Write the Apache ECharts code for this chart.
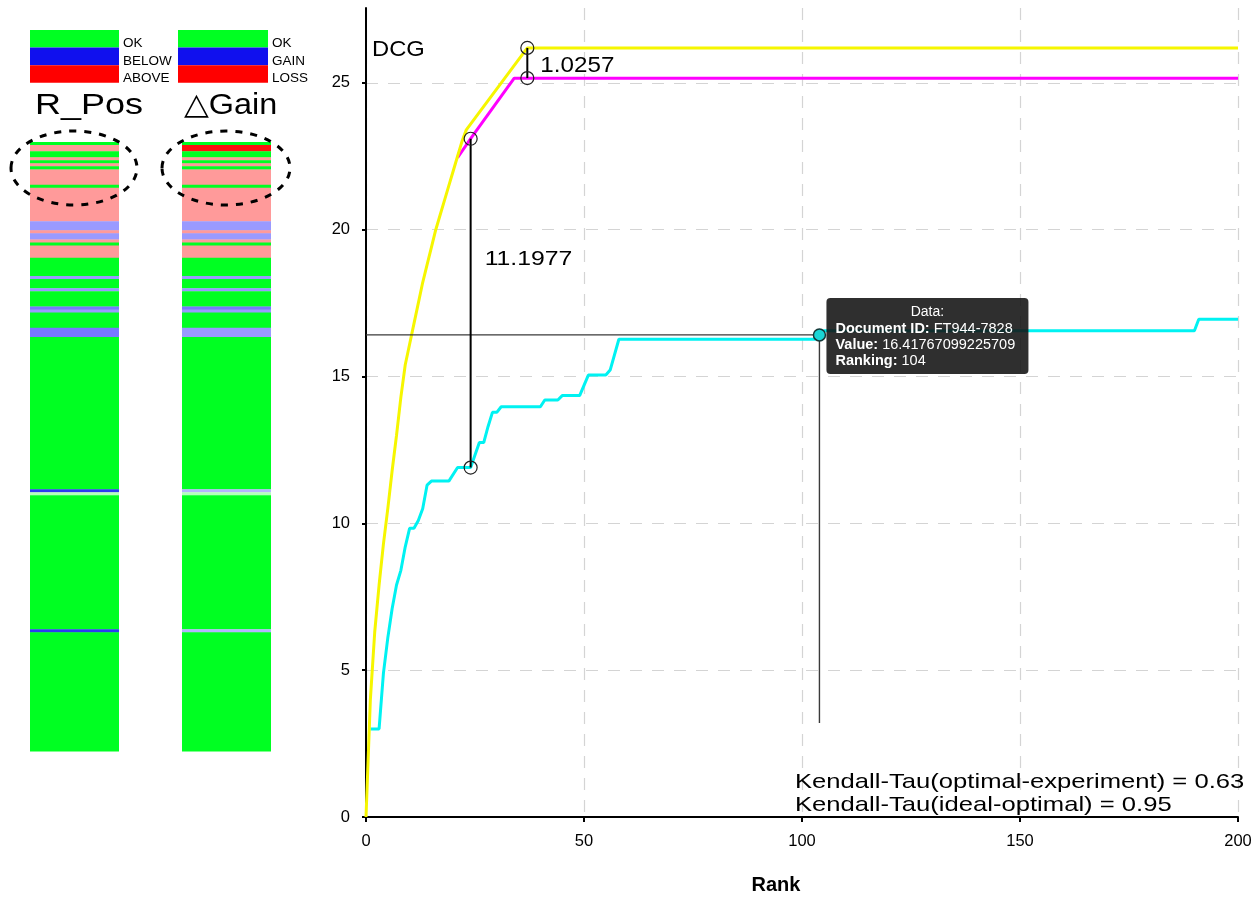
<!DOCTYPE html>
<html lang="en">
<head>
  <meta charset="UTF-8">
  <title>DCG by rank</title>
  <script src="https://cdn.jsdelivr.net/npm/echarts@6/dist/echarts.min.js"></script>
  <style>
    html, body {
      margin: 0;
      padding: 0;
      background: #fff;
    }

    #main {
      width: 1255px;
      height: 897px;
    }
  </style>
</head>
<body>
  <div id="main"></div>

  <script type="text/javascript">
    // ideal ranking (yellow)
    var idealRanks = [0, 1, 2, 3, 4, 5, 6, 7, 8, 9, 10, 11, 12, 13, 14, 15, 16, 17, 18, 19, 20, 21, 22, 23, 37, 200]
    var idealValues = [0, 4.0, 6.3, 7.9, 9.3, 10.5, 11.8, 13.0, 14.3, 15.4, 16.1, 16.8, 17.5, 18.2, 18.8, 19.4, 20.0, 20.5, 21.0, 21.5, 22.0, 22.5, 23.0, 23.4, 26.19, 26.19]

    // optimal ranking (magenta), hidden under the yellow before rank 21
    var optRanks = [21, 24, 34, 200]
    var optValues = [22.45, 23.1, 25.16, 25.16]

    // experiment ranking (cyan)
    var expRanks = [1, 3, 4, 5, 6, 7, 8, 9, 10, 11, 12, 13, 14, 15, 19, 21, 24, 26, 27, 28, 29, 30, 31, 40, 41, 44, 45, 49, 51, 55, 56, 58, 103, 104, 105, 190, 191, 200]
    var expValues = [3.0, 3.0, 4.9, 6.1, 7.1, 7.9, 8.4, 9.2, 9.83, 9.83, 10.1, 10.5, 11.3, 11.44, 11.44, 11.9, 11.9, 12.75, 12.75, 13.3, 13.78, 13.78, 13.97, 13.97, 14.2, 14.2, 14.35, 14.35, 15.05, 15.05, 15.22, 16.27, 16.27, 16.4177, 16.56, 16.56, 16.95, 16.95]

    // measured gaps
    var diffRanks = [24, 37]
    var diffUpper = [23.0977, 26.19]
    var diffLower = [11.9, 25.1643]
    var diffLabels = ['11.1977', '1.0257']

    // hovered point
    var hoverRank = 104
    var hoverValue = 16.41767099225709
    var hoverDocId = 'FT944-7828'
    var hoverLineEnd = 3.2

    var xTicks = [0, 50, 100, 150, 200]
    var yTicks = [0, 5, 10, 15, 20, 25]

    // per-document stripes, top = rank 1, run lengths
    var posKinds = ['G', 'r', 'G', 'r', 'G', 'r', 'G', 'r', 'G', 'r', 'b', 'r', 'b', 'r', 'G', 'r', 'G', 'b', 'G', 'b', 'G', 'B', 'b', 'G', 'B', 'G', 'D', 'P', 'G', 'D', 'G']
    var posCounts = [1, 2, 2, 1, 1, 1, 1, 5, 1, 11, 3, 1, 2, 1, 1, 4, 6, 1, 3, 1, 5, 1, 1, 5, 3, 50, 1, 1, 44, 1, 39]
    var gainKinds = ['G', 'R', 'G', 'r', 'G', 'r', 'G', 'r', 'G', 'r', 'b', 'r', 'b', 'r', 'G', 'r', 'G', 'b', 'G', 'b', 'G', 'B', 'b', 'G', 'b', 'G', 'L', 'P', 'G', 'L', 'G']
    var gainCounts = [1, 2, 2, 1, 1, 1, 1, 5, 1, 11, 3, 1, 2, 1, 1, 4, 6, 1, 3, 1, 5, 1, 1, 5, 3, 50, 1, 1, 44, 1, 39]

    var kindColors = {
      G: '#00ff22',
      r: '#ff9a9a',
      R: '#ff1010',
      b: '#9a9aff',
      B: '#7878ff',
      D: '#2a3cf0',
      P: '#b4ffbc',
      L: '#b4b4ff'
    }

    function pairs(xs, ys) {
      return xs.map(function(x, i) { return [x, ys[i]] })
    }

    function runs(kinds, counts) {
      var out = []
      var start = 0
      kinds.forEach(function(k, i) {
        out.push({ value: [0, start, start + counts[i]], kind: k })
        start += counts[i]
      })
      return out
    }

    var posSegs = runs(posKinds, posCounts)
    var gainSegs = runs(gainKinds, gainCounts)

    function stripeRender(segs) {
      return function(params, api) {
        var a = api.coord([0, api.value(1)])
        var b = api.coord([0, api.value(2)])
        var w = api.size([1, 0])[0]
        return {
          type: 'rect',
          shape: { x: a[0] - w / 2, y: a[1], width: w, height: b[1] - a[1] + 0.4 },
          style: { fill: kindColors[segs[params.dataIndex].kind] }
        }
      }
    }

    var font = '"Liberation Sans", Arial, Helvetica, sans-serif'
    var gridDash = [12, 10]

    var myChart = echarts.init(document.getElementById('main'))

    var diffSeries = diffRanks.map(function(r, i) {
      return {
        type: 'line',
        xAxisIndex: 0,
        yAxisIndex: 0,
        data: [[r, diffLower[i]], [r, diffUpper[i]]],
        symbol: 'circle',
        symbolSize: 13,
        itemStyle: { color: 'rgba(0,0,0,0)', borderColor: '#222', borderWidth: 1.2 },
        lineStyle: { color: '#000', width: 2 },
        z: 6
      }
    })

    var option = {
      animation: false,
      backgroundColor: '#fff',
      textStyle: { fontFamily: font },
      grid: [
        { left: 366, right: 17, top: 8, bottom: 80 },
        { left: 30, top: 142, width: 89, height: 609 },
        { left: 182, top: 142, width: 89, height: 609 }
      ],
      xAxis: [
        {
          gridIndex: 0,
          type: 'value',
          min: xTicks[0],
          max: xTicks[xTicks.length - 1],
          interval: 50,
          axisLine: { lineStyle: { color: '#000', width: 2 } },
          axisTick: { length: 5, lineStyle: { color: '#000', width: 2 } },
          axisLabel: { color: '#000', fontSize: 16.5, margin: 16, fontFamily: font },
          splitLine: { show: true, lineStyle: { color: '#d4d4d4', type: gridDash, width: 1.2 } }
        },
        { gridIndex: 1, type: 'category', data: ['R_Pos'], show: false },
        { gridIndex: 2, type: 'category', data: ['ΔGain'], show: false }
      ],
      yAxis: [
        {
          gridIndex: 0,
          type: 'value',
          min: yTicks[0],
          max: 27.55,
          interval: 5,
          axisLine: { show: true, lineStyle: { color: '#000', width: 2 } },
          axisTick: { show: true, length: 4, lineStyle: { color: '#000', width: 2 } },
          axisLabel: { color: '#000', fontSize: 16.5, margin: 16, fontFamily: font, showMaxLabel: false },
          splitLine: { show: true, showMaxLine: false, lineStyle: { color: '#d4d4d4', type: gridDash, width: 1.2 } }
        },
        { gridIndex: 1, type: 'value', min: 0, max: 200, inverse: true, show: false },
        { gridIndex: 2, type: 'value', min: 0, max: 200, inverse: true, show: false }
      ],
      series: [
        {
          name: 'R_Pos',
          type: 'custom',
          xAxisIndex: 1,
          yAxisIndex: 1,
          renderItem: stripeRender(posSegs),
          data: posSegs
        },
        {
          name: 'Gain',
          type: 'custom',
          xAxisIndex: 2,
          yAxisIndex: 2,
          renderItem: stripeRender(gainSegs),
          data: gainSegs
        },
        {
          name: 'experiment',
          type: 'line',
          data: pairs(expRanks, expValues),
          symbol: 'none',
          lineStyle: { color: '#00f2f2', width: 3 },
          z: 2
        },
        {
          name: 'optimal',
          type: 'line',
          data: pairs(optRanks, optValues),
          symbol: 'none',
          lineStyle: { color: '#ff00ff', width: 3 },
          z: 3
        },
        {
          name: 'ideal',
          type: 'line',
          data: pairs(idealRanks, idealValues),
          symbol: 'none',
          lineStyle: { color: '#f6f600', width: 3 },
          z: 4
        },
        {
          name: 'crossH',
          type: 'line',
          data: [[0, hoverValue], [hoverRank, hoverValue]],
          symbol: 'none',
          lineStyle: { color: '#3a3a3a', width: 1.4 },
          z: 5
        },
        {
          name: 'crossV',
          type: 'line',
          data: [[hoverRank, hoverValue], [hoverRank, hoverLineEnd]],
          symbol: 'none',
          lineStyle: { color: '#3a3a3a', width: 1.4 },
          z: 5
        },
        {
          name: 'hover',
          type: 'scatter',
          data: [[hoverRank, hoverValue]],
          symbolSize: 12,
          itemStyle: { color: '#1ad6d6', borderColor: '#143838', borderWidth: 1.5, opacity: 1 },
          z: 7
        }
      ].concat(diffSeries)
    }

    myChart.setOption(option)

    // annotations, placed from data through the grid
    var p = function(x, y) { return myChart.convertToPixel({ gridIndex: 0 }, [x, y]) }
    var hp = p(hoverRank, hoverValue)
    var d0 = p(diffRanks[0], diffUpper[0])
    var d1 = p(diffRanks[1], diffUpper[1])
    var tipX = hp[0] + 7
    var tipY = hp[1] - 37

    var legendTexts = function(x, names) {
      return names.map(function(n, i) {
        return {
          type: 'text', x: x, y: [43.3, 60.8, 78.3][i], z: 100,
          style: { text: n, fill: '#000', fontSize: 13.5, fontFamily: font, align: 'left', verticalAlign: 'middle' }
        }
      })
    }

    var legendBoxes = function(x, w) {
      return ['#00ff22', '#1010ee', '#ff0000'].map(function(c, i) {
        return { type: 'rect', z: 100, shape: { x: x, y: 30 + i * 17.6, width: w, height: 17.6 }, style: { fill: c } }
      })
    }

    var graphics = []
      .concat(legendBoxes(30, 89), legendBoxes(178, 90))
      .concat(legendTexts(123, ['OK', 'BELOW', 'ABOVE']), legendTexts(272, ['OK', 'GAIN', 'LOSS']))
      .concat([
        {
          type: 'text', x: 35, y: 106, z: 100, scaleX: 1.2,
          style: { text: 'R_Pos', fill: '#000', fontSize: 30, fontFamily: font, align: 'left', verticalAlign: 'middle' }
        },
        {
          type: 'text', x: 184, y: 106, z: 100, scaleX: 1.08,
          style: { text: '△Gain', fill: '#000', fontSize: 30, fontFamily: font, align: 'left', verticalAlign: 'middle' }
        },
        {
          type: 'ellipse', z: 100,
          shape: { cx: 74, cy: 168, rx: 63, ry: 37 },
          style: { fill: 'none', stroke: '#000', lineWidth: 3, lineDash: [7, 8] }
        },
        {
          type: 'ellipse', z: 100,
          shape: { cx: 226, cy: 168, rx: 64, ry: 37 },
          style: { fill: 'none', stroke: '#000', lineWidth: 3, lineDash: [7, 8] }
        },
        {
          type: 'text', x: 372, y: 50, z: 100, scaleX: 1.08,
          style: { text: 'DCG', fill: '#000', fontSize: 22, fontFamily: font, align: 'left', verticalAlign: 'middle' }
        },
        {
          type: 'text', x: 776, y: 885, z: 100,
          style: { text: 'Rank', fill: '#000', fontSize: 20, fontWeight: 'bold', fontFamily: font, align: 'center', verticalAlign: 'middle' }
        },
        {
          type: 'text', x: d0[0] + 14, y: 259, z: 100, scaleX: 1.18,
          style: { text: diffLabels[0], fill: '#000', fontSize: 21, fontFamily: font, align: 'left', verticalAlign: 'middle' }
        },
        {
          type: 'text', x: d1[0] + 13, y: 66, z: 100, scaleX: 1.1,
          style: { text: diffLabels[1], fill: '#000', fontSize: 22, fontFamily: font, align: 'left', verticalAlign: 'middle' }
        },
        {
          type: 'text', x: 795, y: 782.5, z: 100, scaleX: 1.22,
          style: { text: 'Kendall-Tau(optimal-experiment) = 0.63', fill: '#000', fontSize: 21, fontFamily: font, align: 'left', verticalAlign: 'middle' }
        },
        {
          type: 'text', x: 795, y: 805.5, z: 100, scaleX: 1.22,
          style: { text: 'Kendall-Tau(ideal-optimal) = 0.95', fill: '#000', fontSize: 21, fontFamily: font, align: 'left', verticalAlign: 'middle' }
        },
        {
          type: 'group', x: tipX, y: tipY, z: 100,
          children: [
            {
              type: 'rect', z: 100,
              shape: { x: 0, y: 0, width: 202, height: 76, r: 4 },
              style: { fill: 'rgba(18,18,18,0.88)' }
            },
            {
              type: 'text', x: 101, y: 14.5, z: 101,
              style: { text: 'Data:', fill: '#fff', fontSize: 14, fontFamily: font, align: 'center', verticalAlign: 'middle' }
            },
            {
              type: 'text', x: 9, y: 31, z: 101,
              style: {
                text: '{b|Document ID:} ' + hoverDocId, fill: '#fff', fontSize: 14.5, fontFamily: font,
                align: 'left', verticalAlign: 'middle', rich: { b: { fontWeight: 'bold', fontSize: 14.5, fill: '#fff' } }
              }
            },
            {
              type: 'text', x: 9, y: 47, z: 101,
              style: {
                text: '{b|Value:} ' + hoverValue, fill: '#fff', fontSize: 14.5, fontFamily: font,
                align: 'left', verticalAlign: 'middle', rich: { b: { fontWeight: 'bold', fontSize: 14.5, fill: '#fff' } }
              }
            },
            {
              type: 'text', x: 9, y: 63.5, z: 101,
              style: {
                text: '{b|Ranking:} ' + hoverRank, fill: '#fff', fontSize: 14.5, fontFamily: font,
                align: 'left', verticalAlign: 'middle', rich: { b: { fontWeight: 'bold', fontSize: 14.5, fill: '#fff' } }
              }
            }
          ]
        }
      ])

    myChart.setOption({ graphic: graphics })
  </script>
</body>
</html>
